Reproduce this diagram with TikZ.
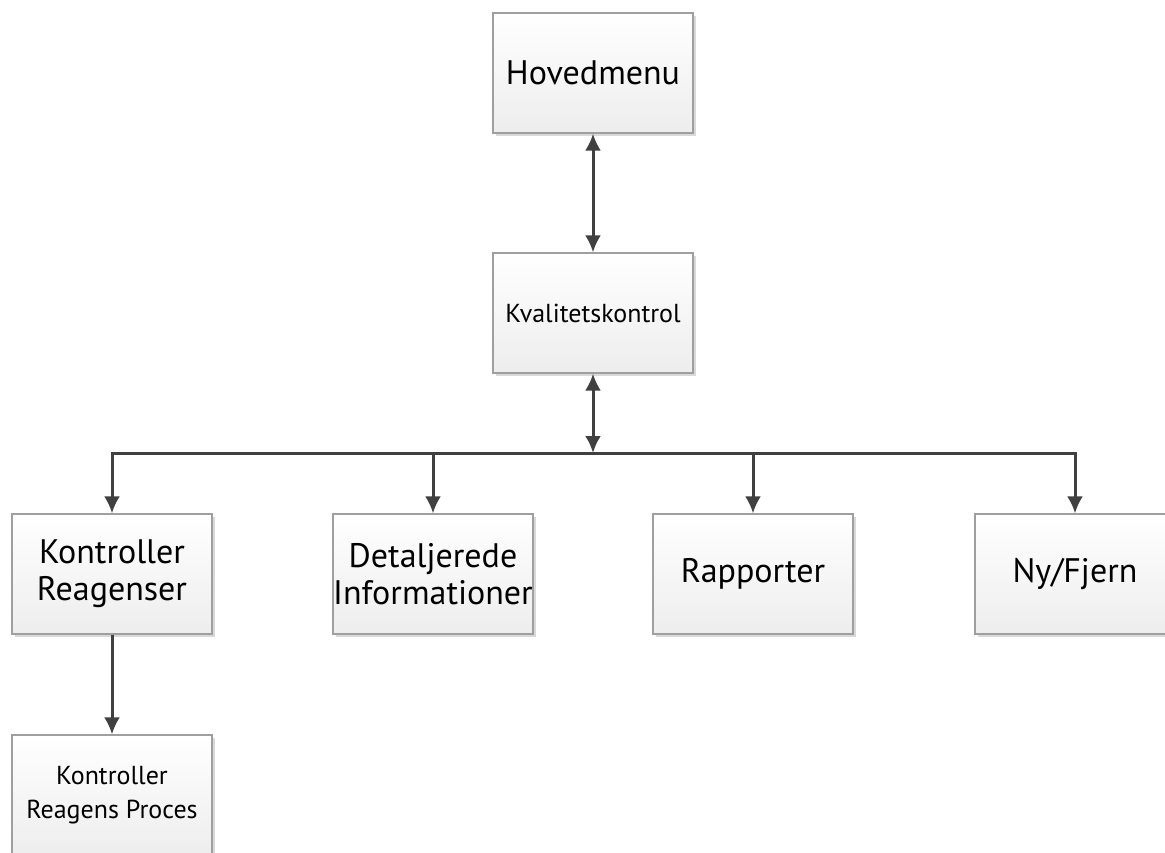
\documentclass[tikz,border=0pt]{standalone}
\usepackage{fontspec}
\setmainfont{PT Sans}
\usetikzlibrary{arrows.meta, shadows, positioning}

\begin{document}
\begin{tikzpicture}
        [
            x=1pt, y=-1pt,
            menu/.style = {draw=gray!75, line width=1.2pt, shape=rectangle, top color=white, bottom color=black!7, minimum width=200pt, minimum height=120pt, inner sep=0pt, align=center, font=\fontsize{34}{37}\selectfont, drop shadow={shadow xshift=3pt, shadow yshift=-3pt, fill=black!15, opacity=1}},
            small/.style = {font=\fontsize{26}{34}\selectfont},
            link/.style = {draw=black!75, line width=3pt, -{Latex[length=17pt,width=16pt]}},
            twoway/.style = {link, {Latex[length=17pt,width=16pt]}-{Latex[length=17pt,width=16pt]}},
        ]

        \useasboundingbox (0,0) rectangle (1165,852);
        \clip (0,0) rectangle (1165,852);

        \node[menu] (hoved) at (593,73)  {Hovedmenu};
        \node[menu, small] (kval) at (593,313) {Kvalitetskontrol};

        \node[menu] (kr)  at (112,574)  {Kontroller\\Reagenser};
        \node[menu] (det) at (433,574)  {Detaljerede\\Informationer};
        \node[menu] (rap) at (753,574)  {Rapporter};
        \node[menu] (ny)  at (1075,574) {Ny/Fjern};

        \node[menu, small] (proc) at (112,795) {Kontroller\\Reagens Proces};

        \coordinate (bus) at (593,453);

        \draw [twoway] (hoved) -- (kval);
        \draw [twoway] (kval) -- (bus);

        \foreach \target in {kr, det, rap, ny}
            \draw [link] (bus) -| (\target);

        \draw [link] (kr) -- (proc);
\end{tikzpicture}
\end{document}
